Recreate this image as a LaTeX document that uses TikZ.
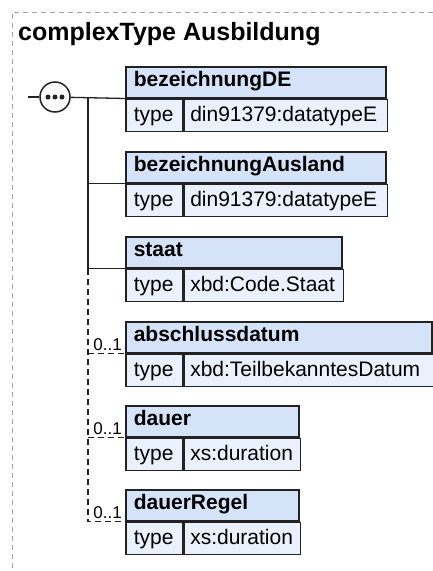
\documentclass[tikz,border=0pt]{standalone}
\usepackage{fontspec}
\setmainfont{Liberation Sans}
\usetikzlibrary{positioning}
\definecolor{headfill}{HTML}{D5E3F8}
\definecolor{rowfill}{HTML}{EAF1FC}
\definecolor{boxline}{HTML}{222222}
\definecolor{framegray}{HTML}{A3A3A3}

\begin{document}
\begin{tikzpicture}[
    x=1pt, y=-1pt,
    every node/.style={font=\fontsize{21}{25}\selectfont},
    head/.style={
        rectangle,
        draw=boxline,
        fill=headfill,
        line width=1.5pt,
        anchor=north west,
        minimum height=31pt,
        inner xsep=8pt,
        inner ysep=0pt,
        align=left,
        text height=14pt,
        text depth=5pt,
        font=\fontsize{21}{25}\selectfont\bfseries
    },
    cell/.style={
        rectangle,
        draw=boxline,
        fill=rowfill,
        line width=1.5pt,
        minimum height=32pt,
        inner ysep=0pt,
        align=left,
        text height=17pt,
        text depth=4pt
    },
    typecell/.style={cell, inner xsep=8pt, text width=41pt},
    valcell/.style={cell, inner xsep=6pt},
    seq/.style={circle, draw=boxline, fill=white, line width=1.5pt, minimum size=30pt, inner sep=0pt},
    conn/.style={draw=boxline, line width=1.3pt},
    opt/.style={conn, dash pattern=on 6pt off 4pt},
    card/.style={anchor=base east, inner sep=0pt, font=\fontsize{17}{20}\selectfont},
    frame/.style={draw=framegray, line width=0.8pt, dash pattern=on 5pt off 4pt}
]
    \useasboundingbox (0,0) rectangle (433,571);

    % outer frame and title
    \draw[frame] (433,12) -- (12,12) -- (12,571);
    \node[anchor=base west, inner sep=0pt, font=\fontsize{25}{30}\selectfont\bfseries] (title) at (18,40) {complexType Ausbildung};

    % === ELEMENTS ===
    \node[head, text width=244pt] (bezDE) at (125,66) {bezeichnungDE};
    \node[typecell, below right=0pt and 0pt of bezDE.south west] (bezDEt) {type};
    \node[valcell, text width=191pt, right=0pt of bezDEt] (bezDEv) {din91379:datatypeE};

    \node[head, text width=244pt] (bezAus) at (125,151) {bezeichnungAusland};
    \node[typecell, below right=0pt and 0pt of bezAus.south west] (bezAust) {type};
    \node[valcell, text width=191pt, right=0pt of bezAust] (bezAusv) {din91379:datatypeE};

    \node[head, text width=200pt] (staat) at (125,236) {staat};
    \node[typecell, below right=0pt and 0pt of staat.south west] (staatt) {type};
    \node[valcell, text width=147pt, right=0pt of staatt] (staatv) {xbd:Code.Staat};

    \node[head, text width=290pt] (abschl) at (125,321) {abschlussdatum};
    \node[typecell, below right=0pt and 0pt of abschl.south west] (abschlt) {type};
    \node[valcell, text width=237pt, right=0pt of abschlt] (abschlv) {xbd:TeilbekanntesDatum};

    \node[head, text width=157pt] (dauer) at (125,405) {dauer};
    \node[typecell, below right=0pt and 0pt of dauer.south west] (dauert) {type};
    \node[valcell, text width=104pt, right=0pt of dauert] (dauerv) {xs:duration};

    \node[head, text width=157pt] (dauerRegel) at (125,489) {dauerRegel};
    \node[typecell, below right=0pt and 0pt of dauerRegel.south west] (dauerRegelt) {type};
    \node[valcell, text width=104pt, right=0pt of dauerRegelt] (dauerRegelv) {xs:duration};

    % === SEQUENCE ===
    \coordinate (stub) at (28,97);
    \coordinate (trunk) at (88,97);
    \node[seq] (seq) at (55,97) {};
    \foreach \dx in {-7,0,7}
        \fill[boxline] ([xshift=\dx pt]seq.center) circle (2.5pt);

    \draw[conn] (stub) -- (seq);
    \draw[conn] (seq) -- (bezDE.south west);
    \draw[conn] (trunk) |- (staat.south west);
    \draw[conn] (trunk |- bezAus.south west) -- (bezAus.south west);

    % optional elements
    \draw[opt] (trunk |- staat.south west) |- (dauerRegel.south west);
    \draw[opt] (trunk |- abschl.south west) -- (abschl.south west);
    \draw[opt] (trunk |- dauer.south west) -- (dauer.south west);
    \foreach \n in {abschl,dauer,dauerRegel}
        \node[card] (\n card) at ([xshift=-3pt,yshift=3pt]\n.south west) {0..1};
\end{tikzpicture}
\end{document}
